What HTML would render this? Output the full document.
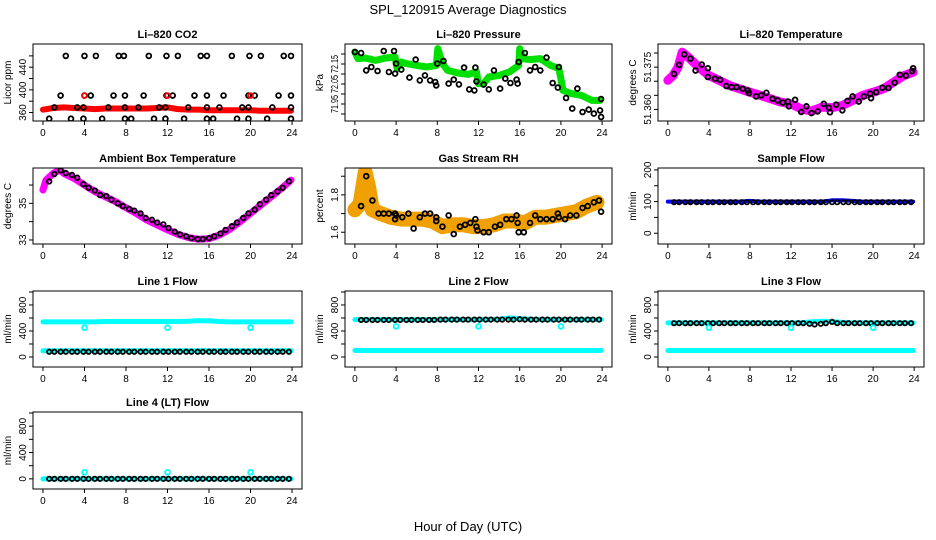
<!DOCTYPE html>
<html><head><meta charset="utf-8"><style>
body{margin:0;background:#fff}
svg{display:block;font-family:"Liberation Sans",sans-serif}
</style></head><body>
<svg id="c" width="936" height="540" viewBox="0 0 936 540">
<text x="468" y="14" text-anchor="middle" font-size="13">SPL_120915  Average Diagnostics</text>
<text x="468" y="531" text-anchor="middle" font-size="13">Hour of Day (UTC)</text>
</svg>
<script>
const xTicks=[0,4,8,12,16,20,24];
const bandT=[0,1,2,3,4,5,6,7,8,9,10,11,12,13,14,15,16,17,18,19,20,21,22,23,23.9];
const circT=[0.6,1.1,1.7,2.2,2.8,3.3,3.9,4.4,5.0,5.5,6.1,6.6,7.2,7.7,8.3,8.8,9.4,9.9,10.5,11.0,11.6,12.1,12.7,13.2,13.8,14.3,14.9,15.4,16.0,16.5,17.1,17.6,18.2,18.7,19.3,19.8,20.4,20.9,21.5,22.0,22.6,23.1,23.7];
const outT=[4,12,20];
// CO2
const co2Band=[365,368,369,368,367,366,367,367,367,367,367,368,369,366,365,365,364,364,364,364,364,363,363,363,363];
const co2HiT=[2.2,4,5.1,7.3,7.8,10.2,11.9,13,15.2,15.8,18.2,19.9,21,23.2,23.9];
const co2Hi=[460,460,460,460,460,460,460,460,460,460,460,460,460,460,460];
const co2MidT=[1.7,4,4.6,6.8,7.9,9.7,11.9,12.5,14.6,15.8,17.4,19.8,20.4,22.7,23.9];
const co2Mid=[390,390,390,390,390,390,390,390,390,390,390,390,390,390,390];
const co2LowT=[1.1,3.3,3.9,6.3,7.9,9.2,11.2,11.8,14,15.8,17,19.2,19.8,22.1,23.9];
const co2Low=[369,369,369,369,369,369,369,369,369,369,369,369,369,369,369];
const co2BotT=[0.6,2.7,3.9,5.7,7.9,8.5,10.7,11.8,13.6,15.8,16.4,18.7,19.8,21.6,23.9];
const co2Bot=[349,349,349,349,349,349,349,349,349,349,349,349,349,349,349];
// Pressure
const prBandT=[0,0.3,1,2,3,3.9,4.1,4.5,5,6,7,7.9,8.05,8.5,9,10,11,11.8,12,12.5,13,14,15,15.9,16,16.3,17,18,19,19.8,20,20.2,21,22,23,23.8];
const prBand=[72.21,72.177,72.18,72.168,72.18,72.185,72.127,72.16,72.152,72.143,72.135,72.143,72.227,72.152,72.118,72.105,72.098,72.11,72.052,72.052,72.085,72.093,72.11,72.143,72.227,72.177,72.172,72.177,72.143,72.127,72.077,72.018,72.002,71.993,71.968,71.968];
const prCT=[0,0.6,1.1,1.6,2.2,2.8,3.3,3.8,3.9,4,4.5,5.3,5.9,6.3,6.8,7.3,7.8,7.9,8,8.6,9.1,9.6,10.1,10.6,11.1,11.6,11.7,11.8,12.5,13,13.5,14.1,14.6,15.1,15.7,15.8,15.9,16.5,17,17.5,18,18.6,19.2,19.7,19.8,20.5,21.1,21.6,22.1,22.7,23.2,23.8,23.9,23.9];
const prC=[72.21,72.205,72.118,72.135,72.115,72.215,72.11,72.215,72.102,72.152,72.122,72.082,72.172,72.068,72.093,72.068,72.06,72.043,72.152,72.165,72.052,72.072,72.048,72.132,72.023,72.018,72.132,72.063,72.047,72.023,72.118,72.027,72.077,72.055,72.072,72.052,72.16,72.205,72.118,72.135,72.118,72.182,72.055,72.032,72.135,71.98,71.927,72.027,71.91,71.922,71.902,71.918,71.975,71.885];
// Li-820 temperature
const ltBandT=[0,0.5,1,1.4,2,3,4,5,6,7,8,9,10,11,12,13,14,15,16,17,18,19,20,21,22,23,23.9];
const ltBand=[51.3703,51.372,51.375,51.3803,51.3785,51.375,51.372,51.3703,51.3685,51.3673,51.3661,51.365,51.3638,51.3626,51.362,51.3602,51.3594,51.3608,51.3606,51.3614,51.3632,51.365,51.3661,51.3673,51.3697,51.372,51.3732];
const ltCT=[0.6,1.1,1.6,2.2,2.7,3.3,3.9,3.9,4.6,5.1,5.7,6.2,6.7,7.3,7.8,7.9,8.6,9.1,9.6,10.2,10.7,11.2,11.7,11.8,12.4,13,13.5,14,14.6,15.2,15.7,15.8,16.4,17,17.5,18,18.6,19.1,19.7,19.8,20.3,20.9,21.5,22.1,22.6,23.2,23.8,23.9];
const ltC=[51.3726,51.3758,51.3795,51.378,51.3738,51.3759,51.3746,51.3715,51.3709,51.3705,51.3683,51.3679,51.3679,51.3673,51.3667,51.3658,51.3646,51.365,51.3659,51.3638,51.3632,51.3624,51.3628,51.3611,51.3634,51.3591,51.3611,51.3587,51.3593,51.362,51.3606,51.359,51.3617,51.3597,51.363,51.3646,51.3628,51.3646,51.3656,51.364,51.3661,51.3677,51.3676,51.3695,51.3723,51.372,51.3736,51.3746];
// Ambient
const amBandT=[0,0.3,1,1.6,2,3,4,5,6,7,8,9,10,11,12,13,14,15,16,17,18,19,20,21,22,23,23.9];
const amBand=[35.73,36.27,36.64,36.82,36.64,36.36,36.0,35.64,35.36,35.09,34.76,34.45,34.09,33.82,33.55,33.31,33.13,33.04,33.07,33.27,33.58,34.0,34.45,34.91,35.36,35.82,36.27];
const amC=[36.2,36.6,36.8,36.65,36.55,36.4,36.05,35.85,35.7,35.45,35.4,35.2,35.0,34.85,34.7,34.6,34.45,34.2,34.1,33.95,33.85,33.65,33.45,33.3,33.2,33.1,33.05,33.05,33.1,33.2,33.35,33.55,33.75,33.95,34.2,34.45,34.65,34.95,35.2,35.45,35.65,35.85,36.2];
// Gas RH
const rhBandT=[0,0.5,1,1.3,1.7,2.5,3.5,4.5,5.5,6.5,7.5,8.5,9.5,10.5,11.5,12.5,13.5,14.5,15.5,16.5,17.5,18.5,19.5,20.5,21.5,22.5,23.5];
const rhBand=[1.72,1.75,1.92,1.85,1.72,1.70,1.68,1.67,1.67,1.67,1.66,1.63,1.64,1.64,1.63,1.63,1.64,1.66,1.66,1.65,1.68,1.68,1.69,1.70,1.71,1.74,1.76];
const rhCT=[0.6,1.1,1.7,2.3,2.8,3.3,3.9,3.9,4.0,4.6,5.2,5.7,6.3,6.8,7.3,7.9,7.9,8.5,9.1,9.6,10.2,10.7,11.2,11.7,11.8,11.9,12.5,13,13.6,14.1,14.7,15.2,15.7,15.8,15.9,16.4,17,17.5,18,18.6,19.2,19.7,19.8,20.4,20.9,21.5,22.1,22.6,23.2,23.7,23.9];
const rhC=[1.74,1.90,1.77,1.70,1.70,1.70,1.67,1.70,1.69,1.68,1.70,1.62,1.68,1.70,1.70,1.66,1.68,1.63,1.69,1.59,1.63,1.64,1.65,1.67,1.63,1.61,1.60,1.60,1.63,1.64,1.67,1.67,1.69,1.65,1.60,1.60,1.65,1.69,1.67,1.67,1.67,1.70,1.68,1.67,1.69,1.69,1.73,1.74,1.76,1.77,1.71];
// Sample flow
const sfBand=[100,100,100,100,100,100,100,100,102,100,100,100,100,100,100,100,104,104,102,100,100,100,100,100,100];
const sfC=[98,98,98,98,98,98,98,98,98,98,98,98,98,98,98,98,98,98,98,98,98,98,98,98,98,98,98,98,98,98,98,98,98,98,98,98,98,98,98,98,98,98,98];
// Line flows
const l1Hi=[540,540,540,540,540,540,545,545,545,545,545,545,545,545,550,560,555,545,540,540,540,540,540,540,540];
const l1Lo=[95,95,95,95,95,95,95,95,95,95,95,95,95,95,95,95,95,95,95,95,95,95,95,95,95];
const l1C=[80,80,80,80,80,80,80,80,80,80,80,80,80,80,80,80,80,80,80,80,80,80,80,80,80,80,80,80,80,80,80,80,80,80,80,80,80,80,80,80,80,80,80];
const l1Out=[450,450,450];
const l2Hi=[575,575,575,575,575,575,575,575,575,575,575,575,575,575,580,600,590,580,575,575,575,575,575,575,575];
const l2Lo=[100,100,100,100,100,100,100,100,100,100,100,100,100,100,100,100,100,100,100,100,100,100,100,100,100];
const l2C=[570,570,570,570,570,570,570,570,570,570,570,570,570,570,575,575,575,575,575,575,575,575,575,575,575,575,575,575,580,575,575,575,575,575,575,575,575,575,575,575,575,575,575];
const l2Out=[470,470,470];
const l3Hi=[525,525,525,525,525,525,525,525,525,525,525,525,525,525,540,550,545,530,525,525,525,525,525,525,525];
const l3Lo=[100,100,100,100,100,100,100,100,100,100,100,100,100,100,100,100,100,100,100,100,100,100,100,100,100];
const l3C=[520,520,520,520,520,520,520,520,520,520,520,520,520,520,520,520,520,520,520,520,520,520,520,520,510,500,510,520,540,520,520,520,520,520,520,520,520,520,520,520,520,520,520];
const l3Out=[450,450,450];
const l4Band=[0,0,0,0,0,0,0,0,0,0,0,0,0,0,0,0,0,0,0,0,0,0,0,0,0];
const l4C=[0,0,0,0,0,0,0,0,0,0,0,0,0,0,0,0,0,0,0,0,0,0,0,0,0,0,0,0,0,0,0,0,0,0,0,0,0,0,0,0,0,0,0];
const l4Out=[100,100,100];

const NS='http://www.w3.org/2000/svg';
const svg=document.getElementById('c');
function mk(tag,attrs,parent){const e=document.createElementNS(NS,tag);for(const k in attrs)e.setAttribute(k,attrs[k]);(parent||svg).appendChild(e);return e;}
const COLS=[[33,302],[345,612],[658,924]];
const ROWS=[[44,121],[168,244],[291,367],[412,489]];
const flowTicks=[0,200,400,600,800,1000];
const flowLabels=[0,400,800];

function panel(name,title,ylab,col,row,ymin,ymax,yticks,ylabels,fmt,labLen){
  const [x0,x1]=COLS[col],[y0,y1]=ROWS[row];
  const g=mk('g',{});
  
  
  const sx=t=>x0+(t+0.96)/25.92*(x1-x0);
  const sy=v=>y1-(v-ymin)/(ymax-ymin)*(y1-y0);
  const clip='clip-'+name;
  const cp=mk('clipPath',{id:clip},g);mk('rect',{x:x0,y:y0,width:x1-x0,height:y1-y0},cp);
  const data=mk('g',{'clip-path':'url(#'+clip+')'},g);
  
  
  const box=mk('rect',{x:x0,y:y0,width:x1-x0,height:y1-y0,fill:'none',stroke:'#000','stroke-width':1},g);
  
  
  const tt=mk('text',{x:(x0+x1)/2,y:y0-6,'text-anchor':'middle','font-size':11,'font-weight':'bold'},g);
  tt.textContent=title;
  
  
  const yl=mk('text',{x:0,y:0,'text-anchor':'middle','font-size':10,transform:`translate(${x0-22},${(y0+y1)/2}) rotate(-90)`},g);
  yl.textContent=ylab;
  
  
  xTicks.forEach(t=>{
    const X=sx(t);
    mk('line',{x1:X,x2:X,y1:y1,y2:y1+4,stroke:'#000'},g);
    const l=mk('text',{x:X,y:y1+15,'text-anchor':'middle','font-size':10},g);
    l.textContent=t;
    
    
  });
  yticks.forEach(v=>{
    const Y=sy(v);
    mk('line',{x1:x0-4,x2:x0,y1:Y,y2:Y,stroke:'#000'},g);
  });
  ylabels.forEach(v=>{
    const Y=sy(v);
    const a={x:0,y:0,'text-anchor':'middle','font-size':10,transform:`translate(${x0-7},${Y}) rotate(-90)`};
    if(labLen){a.textLength=labLen;a.lengthAdjust='spacingAndGlyphs';}
    const l=mk('text',a,g);
    l.textContent=fmt?fmt(v):v;
    
    
  });
  return {
    band(ts,vs,color,w){
      const p=mk('polyline',{points:ts.map((t,i)=>sx(t)+','+sy(vs[i])).join(' '),fill:'none',stroke:color,'stroke-width':w,'stroke-linejoin':'round','stroke-linecap':'round'},data);
      
      
    },
    circles(ts,vs,color,r){
      ts.forEach((t,i)=>{
        const c=mk('circle',{cx:sx(t),cy:sy(vs[i]),r:r||2.4,fill:'none',stroke:color||'#000','stroke-width':1.8},data);
        
        
      });
    }
  };
}

let p;
p=panel('co2-panel','Li–820 CO2','Licor ppm',0,0,345,481,[360,380,400,420,440,460],[360,400,440]);
p.band(bandT,co2Band,'#ff0000',6);
p.circles(co2HiT,co2Hi);p.circles(co2MidT,co2Mid);p.circles(co2LowT,co2Low);p.circles(co2BotT,co2Bot);
p.circles(outT,[390,390,390],'#ff0000');

p=panel('pressure-panel','Li–820 Pressure','kPa',1,0,71.865,72.25,[71.9,71.95,72.0,72.05,72.1,72.15,72.2],[71.95,72.05,72.15],v=>v.toFixed(2),18);
p.band(prBandT,prBand,'#00e000',7);
p.circles(prCT,prC);

p=panel('li820-temp-panel','Li–820 Temperature','degrees C',2,0,51.3559,51.3832,[51.36,51.365,51.37,51.375,51.38],[51.36,51.375],v=>v.toFixed(3));
p.band(ltBandT,ltBand,'#ff00ff',9);
p.circles(ltCT,ltC);

p=panel('ambient-temp-panel','Ambient Box Temperature','degrees C',0,1,32.78,36.93,[33,34,35,36],[33,35]);
p.band(amBandT,amBand,'#ff00ff',7);
p.circles(circT,amC,'#000',2.3);

p=panel('rh-panel','Gas Stream RH','percent',1,1,1.537,1.944,[1.6,1.7,1.8,1.9],[1.6,1.8],v=>v.toFixed(1));
p.band(rhBandT,rhBand,'#f0a000',15);
p.circles(rhCT,rhC);

p=panel('sample-flow-panel','Sample Flow','ml/min',2,1,-34,206,[0,50,100,150,200],[0,100,200]);
p.band(bandT,sfBand,'#0000ff',4);
p.circles(circT,sfC,'#000',2.2);

p=panel('line1-flow-panel','Line 1 Flow','ml/min',0,2,-154,1015,flowTicks,flowLabels);
p.band(bandT,l1Hi,'#00ffff',5);p.band(bandT,l1Lo,'#00ffff',5);
p.circles(circT,l1C,'#000',2.2);p.circles(outT,l1Out,'#00ffff',2.4);

p=panel('line2-flow-panel','Line 2 Flow','ml/min',1,2,-154,1015,flowTicks,flowLabels);
p.band(bandT,l2Hi,'#00ffff',5);p.band(bandT,l2Lo,'#00ffff',5);
p.circles(circT,l2C,'#000',2.2);p.circles(outT,l2Out,'#00ffff',2.4);

p=panel('line3-flow-panel','Line 3 Flow','ml/min',2,2,-154,1015,flowTicks,flowLabels);
p.band(bandT,l3Hi,'#00ffff',5);p.band(bandT,l3Lo,'#00ffff',5);
p.circles(circT,l3C,'#000',2.2);p.circles(outT,l3Out,'#00ffff',2.4);

p=panel('line4-flow-panel','Line 4 (LT) Flow','ml/min',0,3,-154,1015,flowTicks,flowLabels);
p.band(bandT,l4Band,'#00ffff',5);
p.circles(circT,l4C,'#000',2.2);p.circles(outT,l4Out,'#00ffff',2.4);
</script>
</body></html>
